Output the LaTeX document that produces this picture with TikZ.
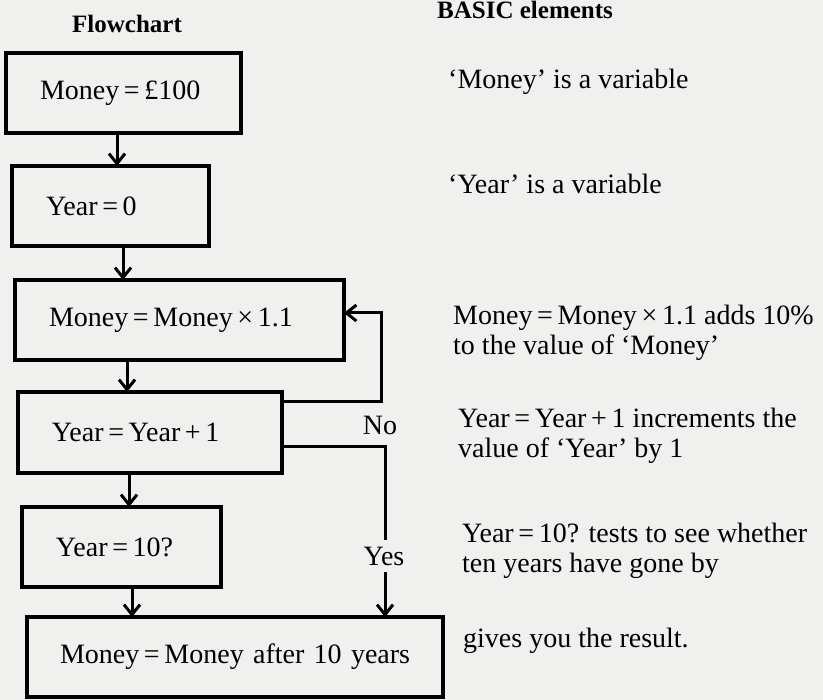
\documentclass[tikz,border=0pt]{standalone}
\usepackage{fontspec}
\setmainfont{Liberation Serif}
\usetikzlibrary{arrows.meta}
\newcommand\myfont{\fontsize{28}{30}\selectfont}
\newcommand\mytitlefont{\fontsize{25}{28}\selectfont\bfseries}
\definecolor{paper}{RGB}{240,240,238}
\begin{document}
\begin{tikzpicture}[x=1pt,y=-1pt,
  box/.style={draw, line width=3.2pt, anchor=north west, outer sep=0pt,
    minimum height=80pt, inner xsep=34pt, inner ysep=0pt, align=left, font=\myfont},
  note/.style={anchor=base west, inner sep=0pt, font=\myfont},
  lab/.style={inner sep=0pt, font=\myfont},
  ttl/.style={anchor=base, inner sep=0pt, font=\mytitlefont},
  conn/.style={line width=3pt},
  arr/.style={line width=3pt, -{Straight Barb[length=10pt,width=16pt]}}]
\fill[paper] (0,0) rectangle (823,700);
\useasboundingbox (0,0) rectangle (823,700);

% titles
\node[ttl] (t1) at (127,33) {Flowchart};
\node[ttl, anchor=base west] (t2) at (437,19) {BASIC elements};

% boxes
\node[box, text width=235pt-68pt] (b1) at (6,53) {Money\,=\,£100};
\node[box, text width=197pt-68pt] (b2) at (12,166) {Year\,=\,0};
\node[box, text width=329pt-68pt] (b3) at (15,280) {Money\,=\,Money\,×\,1.1};
\node[box, text width=264pt-68pt, minimum height=81pt] (b4) at (18,392) {Year\,=\,Year\,+\,1};
\node[box, text width=199pt-68pt] (b5) at (22,507) {Year\,=\,10?};
\node[box, text width=418pt-68pt, inner xsep=33pt] (b6) at (27,617) {\mbox{Money\,=\,Money after 10 years}};

% vertical arrows
\draw[arr] (b1.south -| 117,0) -- (b2.north -| 117,0);
\draw[arr] (b2.south -| 123,0) -- (b3.north -| 123,0);
\draw[arr] (b3.south -| 127,0) -- (b4.north -| 127,0);
\draw[arr] (b4.south -| 129,0) -- (b5.north -| 129,0);
\draw[arr] (b5.south -| 132,0) -- (b6.north -| 132,0);

% No loop
\coordinate (n1) at (381,402);
\coordinate (n2) at (381,313);
\draw[arr] (b4.east |- n1) -- (n1) -- (n2) -- (b3.east |- n2);
\node[lab] (no) at (380,425) {No};

% Yes branch
\coordinate (y1) at (385,447);
\coordinate (y2) at (385,540);
\coordinate (y3) at (385,572);
\draw[conn] (b4.east |- y1) -- (y1) -- (y2);
\node[lab] (yes) at (384,556) {Yes};
\draw[arr] (y3) -- (b6.north -| y3);

% descriptions
\node[note] (d1) at (448,89) {‘Money’ is a variable};
\node[note] (d2) at (448,194) {‘Year’ is a variable};
\node[note] (d3a) at (453,325) {Money\,=\,Money\,×\,1.1 adds 10\%};
\node[note] (d3b) at (453,355) {to the value of ‘Money’};
\node[note] (d4a) at (458,428) {Year\,=\,Year\,+\,1 increments the};
\node[note] (d4b) at (458,458) {value of ‘Year’ by 1};
\node[note] (d5a) at (462,543) {Year\,=\,10? tests to see whether};
\node[note] (d5b) at (462,573) {ten years have gone by};
\node[note] (d6) at (463,648) {gives you the result.};
\end{tikzpicture}
\end{document}
